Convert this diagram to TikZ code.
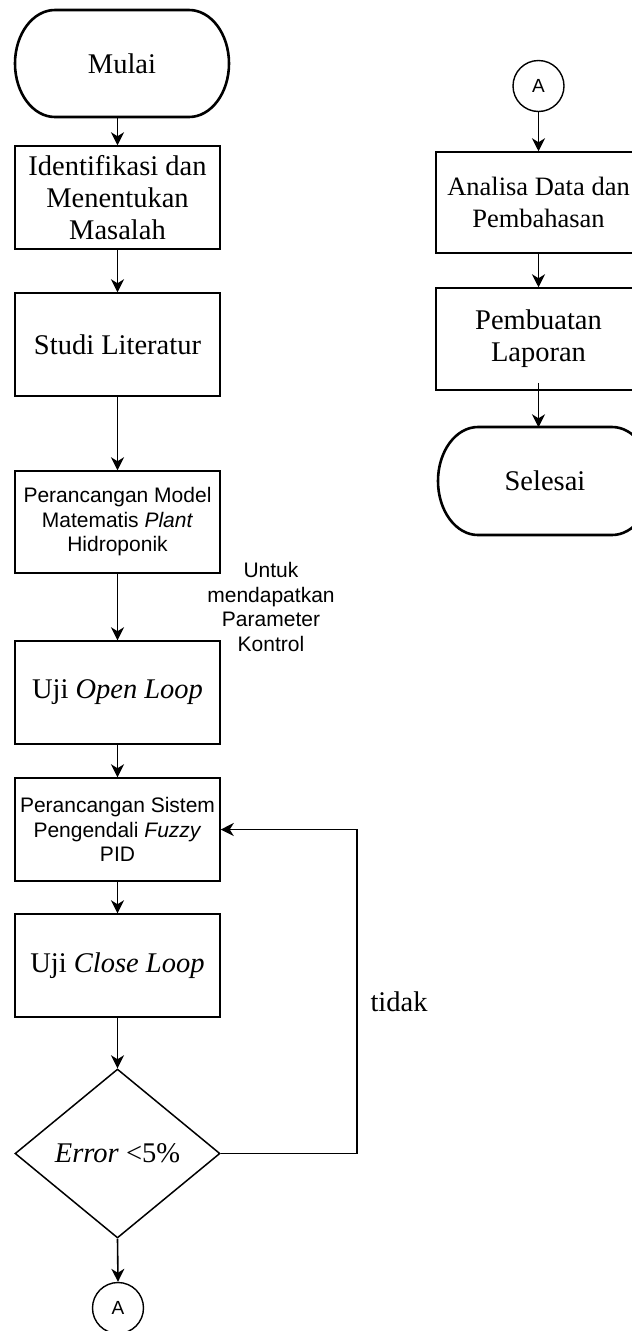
\documentclass[tikz,border=0pt]{standalone}
\usepackage{fontspec}
\setmainfont{Liberation Serif}
\newfontfamily\arialf{Liberation Sans}
\usetikzlibrary{shapes.geometric,arrows.meta}
\begin{document}
\begin{tikzpicture}[x=1pt,y=-1pt,
  serif/.style={font=\fontsize{28.5}{32}\selectfont},
  sans/.style={font=\arialf\fontsize{21}{24.5}\selectfont},
  proc/.style={draw, line width=1.5pt, minimum width=205pt, minimum height=103pt, inner sep=0pt, align=center},
  arr/.style={line width=1.6pt, -{Stealth[length=13pt,width=13pt,inset=4pt]}},
  term/.style={line width=2.6pt},
  termnode/.style={minimum width=214pt, minimum height=107pt, inner sep=0pt},
  conn/.style={circle, draw, line width=1.4pt, minimum size=51pt, inner sep=0pt, font=\arialf\fontsize{19}{22}\selectfont},
  dec/.style={diamond, draw, line width=1.5pt, aspect=1.21, minimum width=205pt, minimum height=169pt, inner sep=0pt}
]
\useasboundingbox (0,0) rectangle (632,1331);
\clip (0,0) rectangle (632,1331);

% terminators
\draw[term] (55,10) -- (189,10) arc[start angle=90, end angle=-90, x radius=40pt, y radius=53.5pt]
  -- (55,117) arc[start angle=270, end angle=90, x radius=40pt, y radius=53.5pt] -- cycle;
\node[termnode, serif] (mulai) at (122,63.5) {Mulai};

\draw[term] (478,427) -- (612,427) arc[start angle=90, end angle=-90, x radius=40pt, y radius=54pt]
  -- (478,535) arc[start angle=270, end angle=90, x radius=40pt, y radius=54pt] -- cycle;
\node[termnode, serif] (selesai) at (545,481) {Selesai};

% left column
\node[proc, serif] (idf) at (117.5,197.5) {Identifikasi dan\\Menentukan\\Masalah};
\node[proc, serif] (studi) at (117.5,344.5) {Studi Literatur};
\node[proc, sans, minimum height=102pt] (model) at (117.5,522) {Perancangan Model\\Matematis \textit{Plant}\\Hidroponik};
\node[proc, serif] (open) at (117.5,692.5) {Uji \textit{Open Loop}};
\node[proc, sans] (sistem) at (117.5,829.5) {Perancangan Sistem\\Pengendali \textit{Fuzzy}\\PID};
\node[proc, serif] (close) at (117.5,965.5) {Uji \textit{Close Loop}};
\node[dec, serif] (err) at (117.5,1153.5) {\textit{Error} <5\%};
\node[conn] (a1) at (118,1308) {A};

\node[sans, align=center] (note) at (271,607) {Untuk\\mendapatkan\\Parameter\\Kontrol};
\node[serif] (tidak) at (399,1002) {tidak};
\coordinate (fb) at (357,1153.5);

% right column
\node[conn] (a2) at (538.5,86) {A};
\node[proc, font=\fontsize{26.5}{32}\selectfont, minimum height=101pt] (anal) at (538.5,202.5) {Analisa Data dan\\Pembahasan};
\node[proc, serif, minimum height=102pt] (pem) at (538.5,339) {Pembuatan\\Laporan};

% connectors
\draw[arr] (mulai.south -| idf.north) -- (idf.north);
\draw[arr] (idf.south) -- (studi.north);
\draw[arr] (studi.south) -- (model.north);
\draw[arr] (model.south) -- (open.north);
\draw[arr] (open.south) -- (sistem.north);
\draw[arr] (sistem.south) -- (close.north);
\draw[arr] (close.south) -- (err.north);
\draw[arr] (err.south) -- (a1.north);
\draw[arr] (err.east) -- (fb) |- (sistem.east);

\draw[arr] (a2.south) -- (anal.north);
\draw[arr] (anal.south) -- (pem.north);
\draw[arr] ([yshift=8pt]pem.south) -- (pem.south |- selesai.north);
\end{tikzpicture}
\end{document}
